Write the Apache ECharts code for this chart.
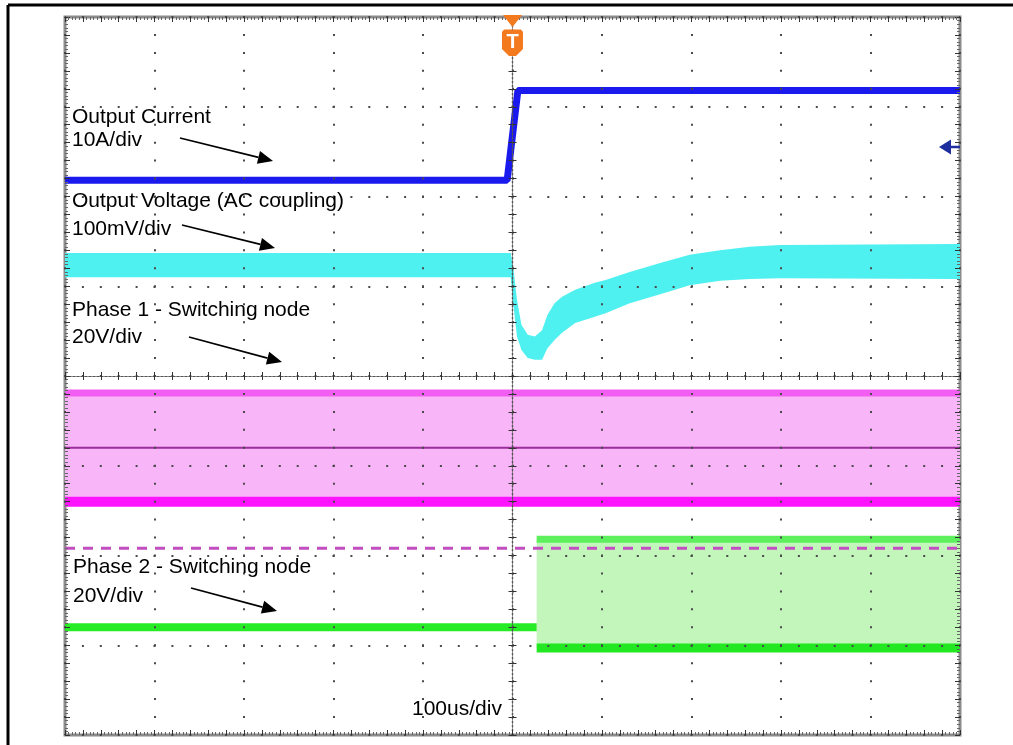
<!DOCTYPE html>
<html><head><meta charset="utf-8">
<script src="https://cdn.jsdelivr.net/npm/echarts@6/dist/echarts.min.js"></script>
<style>html,body{margin:0;padding:0;background:#fff;}#c{width:1013px;height:745px;}</style>
</head><body><div id="c"></div>
<script>
// Horizontal: time in microseconds relative to trigger (100 us/div)
// Vertical: screen divisions (-4 .. +4)
const timeMin = -500, timeMax = 500, timeDiv = 100;
const divMin = -4, divMax = 4, divStep = 1;

// Output current (blue), 10A/div
const currentTime  = [-500, -6, 6, 500];
const currentLevel = [2.18, 2.18, 3.18, 3.18];

// Output voltage (cyan, AC coupled), 100mV/div — noise envelope
const voltageTime  = [-500, -2, 1, 5, 10, 17, 25, 33, 39, 47, 55, 70, 92, 104, 131, 165, 198, 232, 265, 299, 500];
const voltageUpper = [1.37, 1.37, 1.20, 0.85, 0.57, 0.46, 0.44, 0.51, 0.68, 0.81, 0.88, 0.96, 1.04, 1.07, 1.16, 1.26, 1.35, 1.40, 1.44, 1.46, 1.47];
const voltageLower = [1.10, 1.10, 0.79, 0.44, 0.29, 0.20, 0.18, 0.18, 0.31, 0.40, 0.48, 0.59, 0.66, 0.70, 0.81, 0.91, 1.01, 1.06, 1.08, 1.09, 1.08];

// Phase 1 switching node (magenta), 20V/div
const phase1Time  = [-500, 500];
const phase1Upper = [-0.19, -0.19];
const phase1Lower = [-1.40, -1.40];
const phase1Mid   = [-0.80, -0.80];
const cursorLevel = [-1.92, -1.92];

// Phase 2 switching node (green), 20V/div
const phase2IdleTime  = [-500, 27];
const phase2IdleLevel = [-2.80, -2.80];
const phase2SwTime    = [27, 500];
const phase2Upper     = [-1.82, -1.82];
const phase2Lower     = [-3.03, -3.03];

const chart = echarts.init(document.getElementById('c'), null, {renderer: 'canvas'});
const dotColor = '#4a4a4a';
const FONT = '21px "Liberation Sans", Arial, sans-serif';

function trace(t, v, color, width, type) {
  return {type: 'line', data: t.map((x, i) => [x, v[i]]), symbol: 'none', showSymbol: false,
    silent: true, animation: false, z: 3, lineStyle: {color: color, width: width, type: type || 'solid'}};
}
function band(t, hi, lo, fill) {
  return {type: 'custom', silent: true, animation: false, z: 2, clip: false,
    data: t.map((x, i) => [x, lo[i], hi[i]]), encode: {x: 0, y: [1, 2]},
    renderItem: function (params, api) {
      if (params.dataIndex !== 0) return;
      const top = t.map((x, i) => api.coord([x, hi[i]]));
      const bot = t.map((x, i) => api.coord([x, lo[i]])).reverse();
      return {type: 'polygon', shape: {points: top.concat(bot), smooth: 0}, style: {fill: fill}};
    }};
}
function xAx(extra) {
  return Object.assign({type: 'value', min: timeMin, max: timeMax, z: 5, axisLabel: {show: false},
    splitLine: {show: false}, axisLine: {show: false, onZero: false}, axisTick: {show: false}}, extra);
}
function yAx(extra) {
  return Object.assign({type: 'value', min: divMin, max: divMax, z: 5, axisLabel: {show: false},
    splitLine: {show: false}, axisLine: {show: false, onZero: false}, axisTick: {show: false}}, extra);
}
const borderTick = {show: true, inside: true, length: 5, lineStyle: {color: '#333', width: 1}};
const borderMinor = {show: true, splitNumber: 5, length: 3, lineStyle: {color: '#666', width: 1}};
const centerLine = {show: true, onZero: true, onZeroAxisIndex: 0, lineStyle: {color: '#555', width: 1.2, type: [2, 2]}};

function arrow(x1, y1, x2, y2) {
  const a = Math.atan2(y2 - y1, x2 - x1), L = 15, w = 6.5;
  const bx = x2 - L * Math.cos(a), by = y2 - L * Math.sin(a);
  return [
    {type: 'line', shape: {x1: x1, y1: y1, x2: bx, y2: by}, style: {stroke: '#000', lineWidth: 1.6}, z: 20},
    {type: 'polygon', shape: {points: [[x2, y2], [bx + w * Math.sin(a), by - w * Math.cos(a)], [bx - w * Math.sin(a), by + w * Math.cos(a)]]}, style: {fill: '#000'}, z: 20}
  ];
}
function label(text, x, y) {
  return {type: 'text', x: x, y: y, z: 20, style: {text: text, font: FONT, fill: '#000', textVerticalAlign: 'middle', verticalAlign: 'middle'}};
}

const graphics = [
  {type: 'line', shape: {x1: 8, y1: 5, x2: 8, y2: 745}, style: {stroke: '#000', lineWidth: 3}, z: 20},
  {type: 'line', shape: {x1: 8, y1: 5, x2: 1013, y2: 5}, style: {stroke: '#000', lineWidth: 3}, z: 20},
  label('Output Current', 72, 117),
  label('10A/div', 72, 140),
  label('Output Voltage (AC coupling)', 72, 201),
  label('100mV/div', 72, 229),
  label('Phase 1 - Switching node', 72, 310),
  label('20V/div', 72, 337),
  label('Phase 2 - Switching node', 73, 567),
  label('20V/div', 73, 596),
  label('100us/div', 412, 709),
  ...arrow(180, 138, 273, 161),
  ...arrow(182, 225, 275, 248),
  ...arrow(189, 337, 282, 362),
  ...arrow(191, 588, 277, 611),
  // trigger marker
  {type: 'polygon', shape: {points: [[503, 15], [522, 15], [512.5, 27]]}, style: {fill: '#f47a20'}, z: 20},
  {type: 'polygon', shape: {points: [[502, 32], [504, 29.5], [521, 29.5], [523, 32], [523, 49], [516, 56], [509, 56], [502, 49]]}, style: {fill: '#f47a20'}, z: 20},
  {type: 'text', x: 512.5, y: 42, z: 21, style: {text: 'T', font: 'bold 20px "Liberation Sans", Arial, sans-serif', fill: '#fff', align: 'center', textAlign: 'center', verticalAlign: 'middle', textVerticalAlign: 'middle'}},
  // channel 1 ground marker
  {type: 'polygon', shape: {points: [[939, 147], [951, 139.5], [951, 154.5]]}, style: {fill: '#1e2e9e'}, z: 20},
  {type: 'line', shape: {x1: 950, y1: 147, x2: 960, y2: 147}, style: {stroke: '#1e2e9e', lineWidth: 2.5}, z: 20}
];

const option = {
  animation: false,
  backgroundColor: '#fff',
  grid: {left: 65, top: 17, width: 895, height: 718, show: true, borderColor: '#8c8c8c', borderWidth: 3, backgroundColor: '#fff', containLabel: false},
  xAxis: [
    xAx({position: 'bottom', interval: timeDiv, splitLine: {show: true, lineStyle: {color: dotColor, width: 2, type: [2, 15.95], dashOffset: 1}}}),
    xAx({position: 'bottom', interval: timeDiv / 5, axisTick: borderTick, minorTick: borderMinor}),
    xAx({position: 'top', interval: timeDiv / 5, axisTick: borderTick, minorTick: borderMinor}),
    xAx({position: 'bottom', interval: timeDiv / 5, axisLine: centerLine, axisTick: {show: true, inside: true, length: 4, lineStyle: {color: '#333'}}}),
    xAx({position: 'bottom', interval: timeDiv / 5, axisLine: centerLine, axisTick: {show: true, inside: false, length: 4, lineStyle: {color: '#333'}}})
  ],
  yAxis: [
    yAx({position: 'left', interval: divStep, splitLine: {show: true, lineStyle: {color: dotColor, width: 2, type: [2, 15.9], dashOffset: 1}}}),
    yAx({position: 'left', interval: divStep / 5, axisTick: borderTick, minorTick: borderMinor}),
    yAx({position: 'right', interval: divStep / 5, axisTick: borderTick, minorTick: borderMinor}),
    yAx({position: 'left', interval: divStep / 5, axisLine: centerLine, axisTick: {show: true, inside: true, length: 4, lineStyle: {color: '#333'}}}),
    yAx({position: 'left', interval: divStep / 5, axisLine: centerLine, axisTick: {show: true, inside: false, length: 4, lineStyle: {color: '#333'}}})
  ],
  series: [
    band(phase1Time, phase1Upper, phase1Lower, '#f8b6f8'),
    trace(phase1Time, phase1Upper, '#f25ef2', 7),
    trace(phase1Time, phase1Lower, '#ff14ff', 10),
    trace(phase1Time, phase1Mid, '#9c2c9c', 2),
    band(phase2SwTime, phase2Upper, phase2Lower, '#c2f6ba'),
    trace(phase2IdleTime, phase2IdleLevel, '#26ec26', 8),
    trace(phase2SwTime, phase2Upper, '#5cf05c', 7),
    trace(phase2SwTime, phase2Lower, '#22e822', 9),
    trace(phase1Time, cursorLevel, '#c24ec2', 3, [10, 8]),
    band(voltageTime, voltageUpper, voltageLower, '#4ef0f0'),
    trace(currentTime, currentLevel, '#1a1aee', 7)
  ],
  graphic: graphics
};
chart.setOption(option);
</script></body></html>
